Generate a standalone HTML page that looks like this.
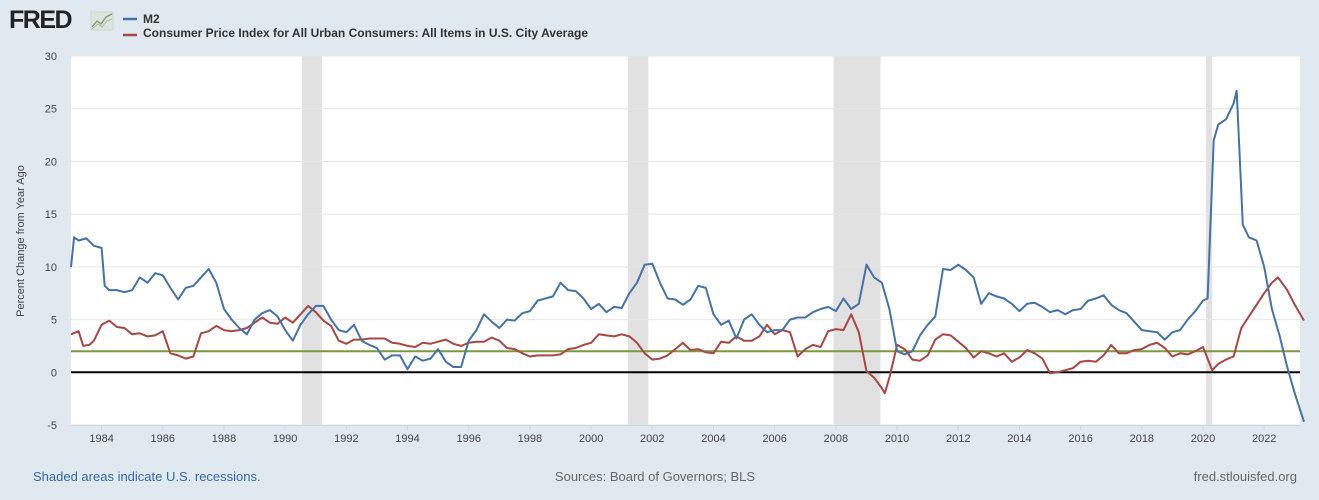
<!DOCTYPE html>
<html><head><meta charset="utf-8">
<style>
body{margin:0;background:#e1e9f0;font-family:"Liberation Sans",sans-serif;}
svg{display:block}
</style></head>
<body>
<svg id="chart" width="1319" height="500" xmlns="http://www.w3.org/2000/svg" font-family="Liberation Sans, sans-serif">
<rect x="0" y="0" width="1319" height="500" fill="#e1e9f0"/>
<g>
<text x="9" y="28" font-size="25" font-weight="bold" fill="#222" letter-spacing="-1.5">FRED</text>
<rect x="91" y="12" width="22" height="18" fill="#dde5dd" stroke="#b8c8b8" stroke-width="0.5"/>
<polyline points="92,27 97,21 101,24 106,17 112,14" fill="none" stroke="#7a9a70" stroke-width="1.3"/>
<polyline points="92,29 98,24 102,27 107,21 112,19" fill="none" stroke="#a8b8a8" stroke-width="1"/>
</g>
<g>
<g>
<line x1="123" y1="19" x2="137" y2="19" stroke="#4572a7" stroke-width="2.5"/>
<text x="143" y="23" font-size="12" font-weight="bold" fill="#333">M2</text>
</g>
<g>
<line x1="123" y1="35" x2="137" y2="35" stroke="#aa4643" stroke-width="2.5"/>
<text x="143" y="37" font-size="12" font-weight="bold" fill="#333">Consumer Price Index for All Urban Consumers: All Items in U.S. City Average</text>
</g>
</g>
<rect x="71" y="56" width="1229" height="370" fill="#ffffff"/>
<g id="recessions"></g>
<g id="grid"></g>
<g id="yticks"></g>
<g id="xticks"></g>
<g id="refs"></g>
<g id="series"></g>
<text transform="translate(24,241) rotate(-90)" text-anchor="middle" font-size="11" fill="#444">Percent Change from Year Ago</text>
<text x="33" y="481" font-size="13" fill="#3366a8">Shaded areas indicate U.S. recessions.</text>
<text x="655" y="481" text-anchor="middle" font-size="13" fill="#666">Sources: Board of Governors; BLS</text>
<text x="1297" y="481" text-anchor="end" font-size="13" fill="#666">fred.stlouisfed.org</text>
</svg>
<script>
const yTicks=[-5,0,5,10,15,20,25,30];
const xTickYears=[1984,1986,1988,1990,1992,1994,1996,1998,2000,2002,2004,2006,2008,2010,2012,2014,2016,2018,2020,2022];
const recStart=[1990.55,2001.2,2007.92,2020.1];
const recEnd=[1991.2,2001.87,2009.46,2020.3];
const m2Dates=[1983.0,1983.1,1983.25,1983.5,1983.75,1984.0,1984.1,1984.25,1984.5,1984.75,1985.0,1985.25,1985.5,1985.75,1986.0,1986.25,1986.5,1986.75,1987.0,1987.25,1987.5,1987.75,1988.0,1988.25,1988.5,1988.75,1989.0,1989.25,1989.5,1989.75,1990.0,1990.25,1990.5,1990.75,1991.0,1991.25,1991.5,1991.75,1992.0,1992.25,1992.5,1992.75,1993.0,1993.25,1993.5,1993.75,1994.0,1994.25,1994.5,1994.75,1995.0,1995.25,1995.5,1995.75,1996.0,1996.25,1996.5,1996.75,1997.0,1997.25,1997.5,1997.75,1998.0,1998.25,1998.5,1998.75,1999.0,1999.25,1999.5,1999.75,2000.0,2000.25,2000.5,2000.75,2001.0,2001.25,2001.5,2001.75,2002.0,2002.25,2002.5,2002.75,2003.0,2003.25,2003.5,2003.75,2004.0,2004.25,2004.5,2004.75,2005.0,2005.25,2005.5,2005.75,2006.0,2006.25,2006.5,2006.75,2007.0,2007.25,2007.5,2007.75,2008.0,2008.25,2008.5,2008.75,2009.0,2009.25,2009.5,2009.75,2010.0,2010.25,2010.5,2010.75,2011.0,2011.25,2011.5,2011.75,2012.0,2012.25,2012.5,2012.75,2013.0,2013.25,2013.5,2013.75,2014.0,2014.25,2014.5,2014.75,2015.0,2015.25,2015.5,2015.75,2016.0,2016.25,2016.5,2016.75,2017.0,2017.25,2017.5,2017.75,2018.0,2018.25,2018.5,2018.75,2019.0,2019.25,2019.5,2019.75,2020.0,2020.15,2020.35,2020.5,2020.75,2021.0,2021.1,2021.3,2021.5,2021.75,2022.0,2022.25,2022.5,2022.75,2023.0,2023.3];
const m2Values=[10,12.8,12.5,12.7,12,11.8,8.2,7.8,7.8,7.6,7.8,9.0,8.5,9.4,9.2,8.0,6.9,8.0,8.2,9.0,9.8,8.5,6.0,5.0,4.2,3.6,5.0,5.6,5.9,5.3,4.0,3.0,4.5,5.5,6.3,6.3,5.0,4.0,3.8,4.5,3.0,2.6,2.3,1.2,1.6,1.6,0.3,1.5,1.1,1.3,2.2,1.0,0.5,0.5,3.0,4.0,5.5,4.8,4.2,5.0,4.9,5.6,5.8,6.8,7.0,7.2,8.5,7.8,7.7,7.0,6.0,6.5,5.7,6.2,6.1,7.5,8.5,10.2,10.3,8.5,7.0,6.9,6.4,6.9,8.2,8.0,5.5,4.5,4.9,3.2,5.0,5.5,4.5,3.8,4.0,4.0,5.0,5.2,5.2,5.7,6.0,6.2,5.8,7.0,6.0,6.5,10.2,9.0,8.5,6.0,2.0,1.7,2.0,3.5,4.5,5.3,9.8,9.7,10.2,9.7,9.0,6.5,7.5,7.2,7.0,6.5,5.8,6.5,6.6,6.2,5.7,5.9,5.5,5.9,6.0,6.8,7.0,7.3,6.4,5.9,5.6,4.8,4.0,3.9,3.8,3.1,3.8,4.0,5.0,5.8,6.8,7.0,22,23.5,24,25.5,26.7,14,12.8,12.5,10,6,3.5,0.5,-2,-4.7];
const cpiDates=[1983.0,1983.25,1983.4,1983.6,1983.75,1984.0,1984.25,1984.5,1984.75,1985.0,1985.25,1985.5,1985.75,1986.0,1986.25,1986.5,1986.75,1987.0,1987.25,1987.5,1987.75,1988.0,1988.25,1988.5,1988.75,1989.0,1989.25,1989.5,1989.75,1990.0,1990.25,1990.5,1990.75,1991.0,1991.25,1991.5,1991.75,1992.0,1992.25,1992.5,1992.75,1993.0,1993.25,1993.5,1993.75,1994.0,1994.25,1994.5,1994.75,1995.0,1995.25,1995.5,1995.75,1996.0,1996.25,1996.5,1996.75,1997.0,1997.25,1997.5,1997.75,1998.0,1998.25,1998.5,1998.75,1999.0,1999.25,1999.5,1999.75,2000.0,2000.25,2000.5,2000.75,2001.0,2001.25,2001.5,2001.75,2002.0,2002.25,2002.5,2002.75,2003.0,2003.25,2003.5,2003.75,2004.0,2004.25,2004.5,2004.75,2005.0,2005.25,2005.5,2005.75,2006.0,2006.25,2006.5,2006.75,2007.0,2007.25,2007.5,2007.75,2008.0,2008.25,2008.5,2008.75,2009.0,2009.25,2009.5,2009.6,2009.75,2010.0,2010.25,2010.5,2010.75,2011.0,2011.25,2011.5,2011.75,2012.0,2012.25,2012.5,2012.75,2013.0,2013.25,2013.5,2013.75,2014.0,2014.25,2014.5,2014.75,2015.0,2015.25,2015.5,2015.75,2016.0,2016.25,2016.5,2016.75,2017.0,2017.25,2017.5,2017.75,2018.0,2018.25,2018.5,2018.75,2019.0,2019.25,2019.5,2019.75,2020.0,2020.3,2020.5,2020.75,2021.0,2021.25,2021.5,2021.75,2022.0,2022.25,2022.45,2022.75,2023.0,2023.3];
const cpiValues=[3.6,3.9,2.5,2.6,3.0,4.5,4.9,4.3,4.2,3.6,3.7,3.4,3.5,3.9,1.8,1.6,1.3,1.5,3.7,3.9,4.4,4.0,3.9,4.0,4.2,4.7,5.2,4.7,4.6,5.2,4.7,5.5,6.3,5.7,4.9,4.4,3.0,2.7,3.1,3.1,3.2,3.2,3.2,2.8,2.7,2.5,2.4,2.8,2.7,2.9,3.1,2.7,2.5,2.8,2.9,2.9,3.3,3.0,2.3,2.2,1.8,1.5,1.6,1.6,1.6,1.7,2.2,2.3,2.6,2.8,3.6,3.5,3.4,3.6,3.4,2.8,1.8,1.2,1.3,1.6,2.2,2.8,2.1,2.2,1.9,1.8,2.9,2.8,3.4,3.0,3.0,3.4,4.5,3.6,4.0,3.8,1.5,2.2,2.6,2.4,3.9,4.1,4.0,5.5,3.8,0.1,-0.5,-1.5,-2.0,-0.5,2.6,2.2,1.2,1.1,1.6,3.1,3.6,3.5,2.9,2.3,1.4,2.0,1.8,1.5,1.8,1.0,1.4,2.1,1.8,1.3,-0.1,0.0,0.2,0.4,1.0,1.1,1.0,1.6,2.6,1.8,1.8,2.1,2.2,2.6,2.8,2.3,1.5,1.8,1.7,2.0,2.4,0.2,0.8,1.2,1.5,4.2,5.3,6.4,7.5,8.5,9.0,7.8,6.4,4.9];
const targetRate=[2];

const NS='http://www.w3.org/2000/svg';
const X0=71,X1=1300,Y0=56,Y1=425,YEAR0=1983,YEAR1=2023.17,VMIN=-5,VMAX=30;
function xs(t){return X0+(t-YEAR0)/(YEAR1-YEAR0)*(X1-X0);}
function ys(v){return Y1-(v-VMIN)/(VMAX-VMIN)*(Y1-Y0);}
function mk(tag,attrs,parent){const e=document.createElementNS(NS,tag);for(const k in attrs)e.setAttribute(k,attrs[k]);parent.appendChild(e);return e;}

const rec=document.getElementById('recessions');
recStart.forEach((s,i)=>{
  const r=mk('rect',{x:xs(s),y:Y0,width:xs(recEnd[i])-xs(s),height:Y1-Y0+1,fill:'#e1e1e1'},rec);
  
  
});
const grid=document.getElementById('grid'),yt=document.getElementById('yticks');
yTicks.forEach(v=>{
  const l=mk('line',{x1:X0,x2:X1,y1:ys(v),y2:ys(v),stroke:'#e6e6e6','stroke-width':1},grid);
  
  
  const t=mk('text',{x:57,y:ys(v)+4,'text-anchor':'end','font-size':11,fill:'#444'},yt);
  t.textContent=v;
  
  
});
const xt=document.getElementById('xticks');
const ax=mk('line',{x1:X0,x2:X1,y1:Y1+0.5,y2:Y1+0.5,stroke:'#ccd6eb','stroke-width':1},xt);


xTickYears.forEach(yr=>{
  const tk=mk('line',{x1:xs(yr),x2:xs(yr),y1:Y1,y2:Y1+5,stroke:'#ccd6eb'},xt);
  
  
  const t=mk('text',{x:xs(yr),y:442,'text-anchor':'middle','font-size':11,fill:'#444'},xt);
  t.textContent=yr;
  
  
});
const refs=document.getElementById('refs');
const zl=mk('line',{x1:X0,x2:X1,y1:ys(0),y2:ys(0),stroke:'#000','stroke-width':2},refs);


targetRate.forEach(v=>{
  const gl=mk('line',{x1:X0,x2:X1,y1:ys(v),y2:ys(v),stroke:'#7a9a3e','stroke-width':2},refs);
  
  
});
const ser=document.getElementById('series');
function drawLine(d,v,color,name){
  const pts=d.map((t,i)=>xs(t).toFixed(1)+','+ys(v[i]).toFixed(1)).join(' ');
  const p=mk('polyline',{points:pts,fill:'none',stroke:color,'stroke-width':2,'stroke-linejoin':'round'},ser);
  
  
}
drawLine(cpiDates,cpiValues,'#aa4643','cpi-line');
drawLine(m2Dates,m2Values,'#4572a7','m2-line');
</script>
</body></html>
